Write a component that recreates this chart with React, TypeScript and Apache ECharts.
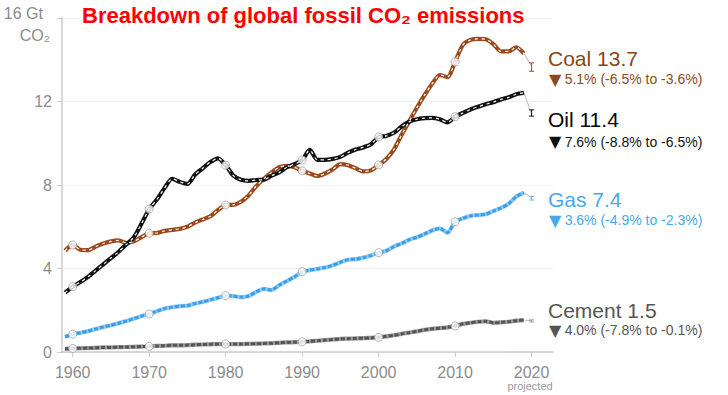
import React, { useEffect, useRef } from "react";
import * as echarts from "echarts";

const years: number[] = [];
for (let y = 1959; y <= 2019; y++) years.push(y);

const coal = [
  4.85, 5.13, 4.9, 4.88, 5.05, 5.2, 5.3, 5.35, 5.22, 5.3, 5.5,
  5.69, 5.7, 5.8, 5.85, 5.9, 6.0, 6.2, 6.35, 6.5, 6.8,
  7.04, 7.05, 7.2, 7.5, 7.95, 8.3, 8.6, 8.85, 8.92, 8.85,
  8.68, 8.55, 8.43, 8.55, 8.75, 9.0, 8.95, 8.8, 8.65, 8.7,
  8.96, 9.25, 9.7, 10.4, 11.05, 11.7, 12.3, 12.85, 13.27, 13.17,
  13.9, 14.7, 14.95, 15.0, 14.98, 14.75, 14.4, 14.4, 14.6, 14.3,
];
const oil = [
  2.84, 3.13, 3.35, 3.6, 3.9, 4.2, 4.5, 4.8, 5.15, 5.5, 6.15,
  6.85, 7.3, 7.85, 8.3, 8.15, 8.05, 8.5, 8.8, 9.1, 9.28,
  8.95, 8.45, 8.25, 8.2, 8.24, 8.25, 8.45, 8.6, 8.85, 9.0,
  9.2, 9.68, 9.2, 9.2, 9.25, 9.35, 9.55, 9.7, 9.8, 9.95,
  10.3, 10.35, 10.5, 10.8, 11.03, 11.15, 11.2, 11.22, 11.15, 11.0,
  11.27, 11.45, 11.62, 11.75, 11.87, 11.97, 12.1, 12.2, 12.35, 12.42,
];
const gas = [
  0.73, 0.85, 0.92, 1.0, 1.1, 1.2, 1.28, 1.38, 1.48, 1.6, 1.72,
  1.82, 1.95, 2.08, 2.15, 2.2, 2.22, 2.32, 2.4, 2.5, 2.6,
  2.7, 2.68, 2.63, 2.68, 2.88, 3.02, 2.97, 3.2, 3.4, 3.6,
  3.85, 3.92, 3.98, 4.05, 4.15, 4.3, 4.42, 4.45, 4.52, 4.62,
  4.76, 4.85, 5.05, 5.2, 5.38, 5.5, 5.65, 5.82, 5.92, 5.72,
  6.24, 6.4, 6.52, 6.56, 6.6, 6.75, 6.9, 7.1, 7.45, 7.63,
];
const cement = [
  0.15, 0.17, 0.18, 0.19, 0.2, 0.22, 0.22, 0.23, 0.24, 0.25, 0.26,
  0.27, 0.29, 0.3, 0.32, 0.32, 0.33, 0.35, 0.36, 0.37, 0.38,
  0.38, 0.38, 0.38, 0.39, 0.4, 0.41, 0.42, 0.44, 0.46, 0.47,
  0.49, 0.51, 0.54, 0.57, 0.6, 0.63, 0.64, 0.65, 0.66, 0.68,
  0.7, 0.75, 0.8, 0.87, 0.93, 0.99, 1.06, 1.11, 1.14, 1.18,
  1.25, 1.35, 1.4, 1.45, 1.47, 1.4, 1.42, 1.45, 1.5, 1.53,
];

// Projected 2020: [central, low, high]
const projYear = 2020;
const coalProj = [13.7, 13.45, 13.85];
const oilProj = [11.4, 11.3, 11.6];
const gasProj = [7.38, 7.28, 7.46];
const cementProj = [1.5, 1.44, 1.54];

const xTicks = [1960, 1970, 1980, 1990, 2000, 2010, 2020];

const fuelNames = ["Coal", "Oil", "Gas", "Cement"];
const fuelTotals = ["13.7", "11.4", "7.4", "1.5"];
const fuelChanges = [
  "5.1% (-6.5% to -3.6%)",
  "7.6% (-8.8% to -6.5%)",
  "3.6% (-4.9% to -2.3%)",
  "4.0% (-7.8% to -0.1%)",
];

const FONT = "'Liberation Sans', Arial, sans-serif";

export default function App() {
  const ref = useRef<HTMLDivElement>(null);
  useEffect(() => {
    if (!ref.current) return;
    const chart = echarts.init(ref.current, null, { renderer: "svg" });

    const fuels = [
      { name: "Coal", values: coal, proj: coalProj, base: "#9a4a1c", dash: "#ffffff", dashW: 1.2, dashType: [3, 4], text: "#8b4515", sub: "#8b4a20" },
      { name: "Oil", values: oil, proj: oilProj, base: "#111111", dash: "#ffffff", dashW: 1.2, dashType: [3, 4], text: "#000000", sub: "#111111" },
      { name: "Gas", values: gas, proj: gasProj, base: "#8acbf7", dash: "#3d9de6", dashW: 3, dashType: [4, 2], text: "#4aa8ee", sub: "#4aa8ee" },
      { name: "Cement", values: cement, proj: cementProj, base: "#999999", dash: "#555555", dashW: 3, dashType: [4, 2], text: "#555555", sub: "#555555" },
    ];

    const series: any[] = [];
    fuels.forEach((f, k) => {
      const data = years.map((y, i) => [y, f.values[i]]);
      series.push({
        type: "line",
        name: f.name,
        data,
        showSymbol: false,
        smooth: 0.25,
        lineStyle: { color: f.base, width: 4.2 },
        z: 2 + k * 0.1,
        silent: true,
      });
      series.push({
        type: "line",
        name: f.name + "-dash",
        data,
        showSymbol: false,
        smooth: 0.25,
        lineStyle: { color: f.dash, width: f.dashW, type: f.dashType },
        z: 3 + k * 0.1,
        silent: true,
      });
      series.push({
        type: "line",
        name: f.name + "-proj",
        data: [
          [years[years.length - 1], f.values[f.values.length - 1]],
          [projYear, f.proj[0]],
        ],
        showSymbol: false,
        lineStyle: { color: "#b8b8b8", width: 1 },
        z: 1,
        silent: true,
      });
      series.push({
        type: "scatter",
        name: f.name + "-dec",
        data: data.filter((d) => d[0] % 10 === 0),
        symbol: "circle",
        symbolSize: 8,
        itemStyle: { color: "#ffffff", borderColor: "#a0a0a0", borderWidth: 1 },
        z: 6,
        silent: true,
      });
      series.push({
        type: "custom",
        name: f.name + "-err",
        data: [[projYear, f.proj[1], f.proj[2]]],
        renderItem: (params: any, api: any) => {
          const lo = api.coord([api.value(0), api.value(1)]);
          const hi = api.coord([api.value(0), api.value(2)]);
          const style = { stroke: f.base === "#8acbf7" ? "#6bb8ef" : f.base, lineWidth: 1 };
          return {
            type: "group",
            children: [
              { type: "line", shape: { x1: lo[0], y1: lo[1], x2: hi[0], y2: hi[1] }, style },
              { type: "line", shape: { x1: lo[0] - 2.5, y1: lo[1], x2: lo[0] + 2.5, y2: lo[1] }, style },
              { type: "line", shape: { x1: hi[0] - 2.5, y1: hi[1], x2: hi[0] + 2.5, y2: hi[1] }, style },
            ],
          };
        },
        z: 7,
        silent: true,
      });
    });

    const labelYs = [58.5, 119, 199.5, 310];
    const subYs = [79, 141.5, 220, 330];
    const graphic: any[] = [
      {
        type: "text",
        x: 82,
        y: 15,
        z: 100,
        style: {
          text: "Breakdown of global fossil CO₂ emissions",
          fill: "#ff0000",
          font: "bold 22px 'Liberation Sans', Arial, sans-serif",
          verticalAlign: "middle",
        },
      },
      {
        type: "text",
        x: 43,
        y: 13.5,
        z: 100,
        style: { text: "16 Gt", fill: "#8c8c8c", font: "16px " + FONT, align: "right", verticalAlign: "middle" },
      },
      {
        type: "text",
        x: 50,
        y: 35,
        z: 100,
        style: { text: "CO₂", fill: "#8c8c8c", font: "16px " + FONT, align: "right", verticalAlign: "middle" },
      },
      {
        type: "text",
        x: 530,
        y: 386,
        z: 100,
        style: { text: "projected", fill: "#9a9a9a", font: "11px " + FONT, align: "center", verticalAlign: "middle" },
      },
    ];
    fuels.forEach((f, k) => {
      graphic.push({
        type: "text",
        x: 548,
        y: labelYs[k],
        z: 100,
        style: {
          text: fuelNames[k] + " " + fuelTotals[k],
          fill: f.text,
          font: "21px " + FONT,
          verticalAlign: "middle",
        },
      });
      graphic.push({
        type: "text",
        x: 549,
        y: subYs[k],
        z: 100,
        style: {
          text: "{tri|▼} {t|" + fuelChanges[k] + "}",
          fill: f.sub,
          verticalAlign: "middle",
          rich: {
            tri: { fontSize: 16, fontFamily: "'DejaVu Sans', sans-serif", fill: f.sub },
            t: { fontSize: 14, fontFamily: FONT, fill: f.sub },
          },
        },
      });
    });

    chart.setOption({
      animation: false,
      backgroundColor: "#ffffff",
      grid: { left: 62, right: 175, top: 18, bottom: 43, containLabel: false },
      xAxis: {
        type: "value",
        min: 1958.6,
        max: 2022.8,
        axisLine: { show: true, lineStyle: { color: "#cccccc", width: 1.5 } },
        axisTick: { show: true, length: 5, customValues: xTicks, lineStyle: { color: "#cccccc" } },
        axisLabel: {
          customValues: xTicks,
          formatter: (v: number) => String(v),
          color: "#8c8c8c",
          fontSize: 16,
          fontFamily: FONT,
          margin: 12,
        },
        splitLine: { show: false },
      },
      yAxis: {
        type: "value",
        min: 0,
        max: 16,
        interval: 4,
        axisLine: { show: true, lineStyle: { color: "#cccccc", width: 1.5 } },
        axisTick: { show: true, length: 5, lineStyle: { color: "#cccccc" } },
        axisLabel: {
          formatter: (v: number) => (v === 16 ? "" : String(v)),
          color: "#8c8c8c",
          fontSize: 16,
          fontFamily: FONT,
          margin: 10,
        },
        splitLine: { show: true, lineStyle: { color: "#f1f1f1", width: 1 } },
      },
      series,
      graphic,
    });
    return () => chart.dispose();
  }, []);
  return <div ref={ref} style={{ width: 728, height: 395, position: "absolute", left: 0, top: 0 }} />;
}
